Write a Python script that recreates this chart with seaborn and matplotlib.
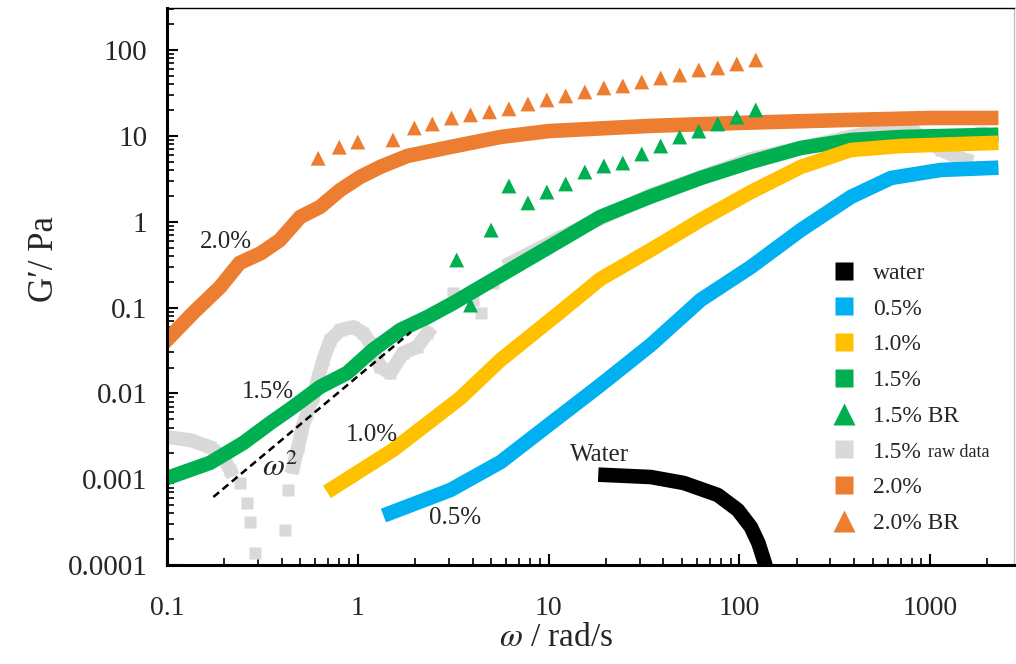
import numpy as np
import pandas as pd
import seaborn as sns
import matplotlib.pyplot as plt
from matplotlib.lines import Line2D
from matplotlib.ticker import LogLocator, FuncFormatter, NullFormatter

# storage modulus G' (Pa) vs angular frequency (rad/s)
water_w = [19.9, 34.3, 51.1, 77.1, 98.2, 115, 126, 134.5, 137]
water_g = [0.00112, 0.00106, 0.000904, 0.000655, 0.000438, 0.000277, 0.00018, 0.000114, 0.0001]

c05_w = [1.48, 3.06, 5.6, 10, 18.7, 34.3, 62.8, 115, 210, 385, 624, 1143, 2090]
c05_g = [0.000404, 0.000748, 0.00158, 0.00428, 0.0125, 0.0366, 0.123, 0.297, 0.80, 1.95, 3.24, 4.02, 4.24]

c10_w = [0.743, 1.53, 3.45, 5.6, 11.6, 18.7, 34.3, 62.8, 115, 210, 385, 705, 2090]
c10_g = [0.00079, 0.00219, 0.00883, 0.0245, 0.09, 0.215, 0.469, 1.05, 2.22, 4.35, 6.87, 7.64, 8.28]

c15_w = [0.1, 0.168, 0.251, 0.348, 0.458, 0.635, 0.88, 1.2, 1.67, 2.32, 3.17, 5.1, 11.6,
         18.7, 34, 63, 115, 210, 385, 705, 2090]
c15_g = [0.00103, 0.00155, 0.00264, 0.00452, 0.00693, 0.0119, 0.0173, 0.0321, 0.0548, 0.0776,
         0.113, 0.21, 0.61, 1.14, 1.95, 3.24, 4.98, 7.24, 8.97, 9.73, 10.3]

c20_w = [0.1, 0.137, 0.19, 0.24, 0.31, 0.39, 0.5, 0.635, 0.81, 1.03, 1.31, 1.82, 3.06, 5.6,
         10, 34, 100, 385, 1000, 2090]
c20_g = [0.042, 0.0865, 0.174, 0.331, 0.43, 0.61, 1.14, 1.49, 2.35, 3.33, 4.35, 5.85, 7.44,
         9.73, 11.4, 13.1, 14.2, 15.4, 16.2, 16.2]

# raw data of 1.5%, seg = runs of points that touch each other
raw_w = [0.1, 0.132, 0.168, 0.197, 0.214, 0.242, 0.263, 0.273, 0.290, 0.416, 0.431,
         0.458, 0.487, 0.511, 0.543, 0.584, 0.621, 0.659, 0.718, 0.810, 0.947, 1.07, 1.16,
         1.31, 1.48, 1.73, 2.05, 2.32, 3.17, 4.04, 4.40, 5.14,
         6.32, 11.6, 34.3, 115, 490, 609, 815, 1143, 1369, 1545, 1853]
raw_g = [0.0031, 0.00286, 0.00237, 0.00182, 0.00128, 0.000904, 0.000528, 0.000317, 0.000138,
         0.000256, 0.000748, 0.00139, 0.00237, 0.00395, 0.00592, 0.00908, 0.0155, 0.0245,
         0.0419, 0.0548, 0.0594, 0.0506, 0.0386, 0.0203, 0.0173, 0.0296, 0.0348, 0.0506,
         0.148, 0.123, 0.0865, 0.194, 0.33, 0.66, 2.05, 5.4, 11.1, 11.7, 11.4, 6.87, 5.69,
         5.25, 11.1]
raw_seg = [0, 0, 0, 0, 0, 1, 2, 3, 4, 5, 6,
           7, 7, 7, 7, 7, 7, 7, 7, 7, 7, 7, 7,
           7, 7, 7, 7, 7, 8, 9, 10, 11,
           12, 12, 12, 12, 12, 12, 12, 12, 12, 12, 13]

br15_w = [3.3, 3.9, 5.0, 6.2, 7.8, 9.8, 12.3, 15.5, 19.5, 24.5, 30.8, 38.7, 48.7, 61.3, 77.1, 97, 122]
br15_g = [0.359, 0.107, 0.80, 2.61, 1.66, 2.22, 2.76, 3.80, 4.47, 4.84, 6.17, 7.64, 9.73, 11.4,
          13.8, 16.6, 20.1]

br20_w = [0.62, 0.8, 1.0, 1.53, 1.98, 2.46, 3.1, 3.9, 4.9, 6.2, 7.8, 9.8, 12.3, 15.5, 19.5,
          24.5, 30.8, 38.7, 48.7, 61.3, 77.1, 97, 122]
br20_g = [5.5, 7.4, 8.5, 9.0, 12.4, 13.8, 16.2, 17.6, 19.1, 20.7, 23.6, 26.3, 29.3, 32.6, 36.3,
          38.3, 42.6, 47.4, 51.4, 58.8, 62.1, 69.1, 76.9]

slope_w = [0.175, 1.9]
slope_g = [0.00062, 0.052]

col = {'water': '#000000', '0.5%': '#00B0F0', '1.0%': '#FFC000', '1.5%': '#00B050',
       'raw': '#D9D9D9', '2.0%': '#ED7D31'}

sns.set_style('ticks')
plt.rcParams['font.family'] = ['Liberation Serif', 'DejaVu Serif']
plt.rcParams['mathtext.fontset'] = 'stix'

fig = plt.figure(figsize=(10.16, 6.64), dpi=100)
ax = fig.add_axes([167 / 1016, 99 / 664, 847 / 1016, 557 / 664])

band = dict(lw=10.5, sort=False, estimator=None, solid_capstyle='projecting',
            solid_joinstyle='round')

raw = pd.DataFrame({'w': raw_w, 'g': raw_g, 'seg': raw_seg})
sns.lineplot(data=raw, x='w', y='g', units='seg', estimator=None, color=col['raw'],
             lw=10, marker='s', ms=9, mec='none', solid_capstyle='projecting',
             solid_joinstyle='round', ax=ax)
sns.lineplot(x=c15_w, y=c15_g, color=col['1.5%'], ax=ax, **band)
sns.lineplot(x=c10_w, y=c10_g, color=col['1.0%'], ax=ax, **band)
sns.lineplot(x=c05_w, y=c05_g, color=col['0.5%'], ax=ax, **band)
sns.lineplot(x=c20_w, y=c20_g, color=col['2.0%'], ax=ax, **band)
sns.lineplot(x=water_w, y=water_g, color=col['water'], ax=ax, **band)

sns.scatterplot(x=br15_w, y=br15_g, marker='^', s=115, color=col['1.5%'], edgecolor='none', ax=ax, zorder=5)
sns.scatterplot(x=br20_w, y=br20_g, marker='^', s=115, color=col['2.0%'], edgecolor='none', ax=ax, zorder=5)

ax.plot(slope_w, slope_g, color='black', ls='--', lw=1.8, dashes=(3, 1.8), zorder=6)

ax.set_xscale('log')
ax.set_yscale('log')
ax.set_xlim(0.1, 2754)
ax.set_ylim(1e-4, 310)

fmt = FuncFormatter(lambda v, p: f'{v:g}')
ax.xaxis.set_major_locator(LogLocator(base=10, numticks=20))
ax.yaxis.set_major_locator(LogLocator(base=10, numticks=20))
ax.xaxis.set_minor_locator(LogLocator(base=10, subs=np.arange(2, 10), numticks=40))
ax.yaxis.set_minor_locator(LogLocator(base=10, subs=np.arange(2, 10), numticks=40))
ax.xaxis.set_major_formatter(fmt)
ax.yaxis.set_major_formatter(fmt)
ax.xaxis.set_minor_formatter(NullFormatter())
ax.yaxis.set_minor_formatter(NullFormatter())
ax.tick_params(which='both', direction='in', top=False, right=False, color='black')
ax.tick_params(which='major', length=8, width=1.5)
ax.tick_params(which='minor', length=5, width=1.2)
ax.tick_params(axis='x', labelsize=20, pad=22)
ax.tick_params(axis='y', labelsize=21, pad=14)

for s in ['left', 'bottom']:
    ax.spines[s].set_linewidth(2.2)
    ax.spines[s].set_color('black')
ax.spines['top'].set_linewidth(1.0)
ax.spines['top'].set_color('black')
ax.spines['right'].set_linewidth(1.0)
ax.spines['right'].set_color('#bfbfbf')

ax.set_xlabel(r'$\omega$ / rad/s', fontsize=24)
ax.set_ylabel('G\u2032/ Pa', fontsize=25)
ax.xaxis.set_label_coords(0.46, -0.103)
ax.yaxis.set_label_coords(-0.125, 0.55)

ax.text(0.204, 0.582, '2.0%', fontsize=18, ha='center', va='center')
ax.text(0.339, 0.0104, '1.5%', fontsize=18, ha='center', va='center')
ax.text(1.18, 0.00327, '1.0%', fontsize=18, ha='center', va='center')
ax.text(3.25, 0.000354, '0.5%', fontsize=18, ha='center', va='center')
ax.text(18.5, 0.00191, 'Water', fontsize=18, ha='center', va='center')
ax.text(0.392, 0.00135, r'$\omega^2$', fontsize=23, ha='center', va='center')

names = ['water', '0.5%', '1.0%', '1.5%', '1.5% BR', '1.5%', '2.0%', '2.0% BR']
keys = ['water', '0.5%', '1.0%', '1.5%', '1.5%', 'raw', '2.0%', '2.0%']
marks = ['s', 's', 's', 's', '^', 's', 's', '^']
handles = [Line2D([], [], ls='none', marker=m, ms=(13 if m == 's' else 16), color=col[k], mec='none')
           for m, k in zip(marks, keys)]
leg = ax.legend(handles, names, loc='upper left', bbox_to_anchor=(0.772, 0.56), frameon=False,
                fontsize=17, handletextpad=0.6, labelspacing=0.6, borderaxespad=0,
                handlelength=1.2)

fig.canvas.draw()
bb = leg.get_texts()[5].get_window_extent()
x1, y0 = ax.transAxes.inverted().transform((bb.x1 + 6, bb.y0 + 0.216 * 17 * 100 / 72))
ax.text(x1, y0, 'raw data', fontsize=13, transform=ax.transAxes, va='baseline', ha='left')

fig.savefig('out.png', dpi=100)
